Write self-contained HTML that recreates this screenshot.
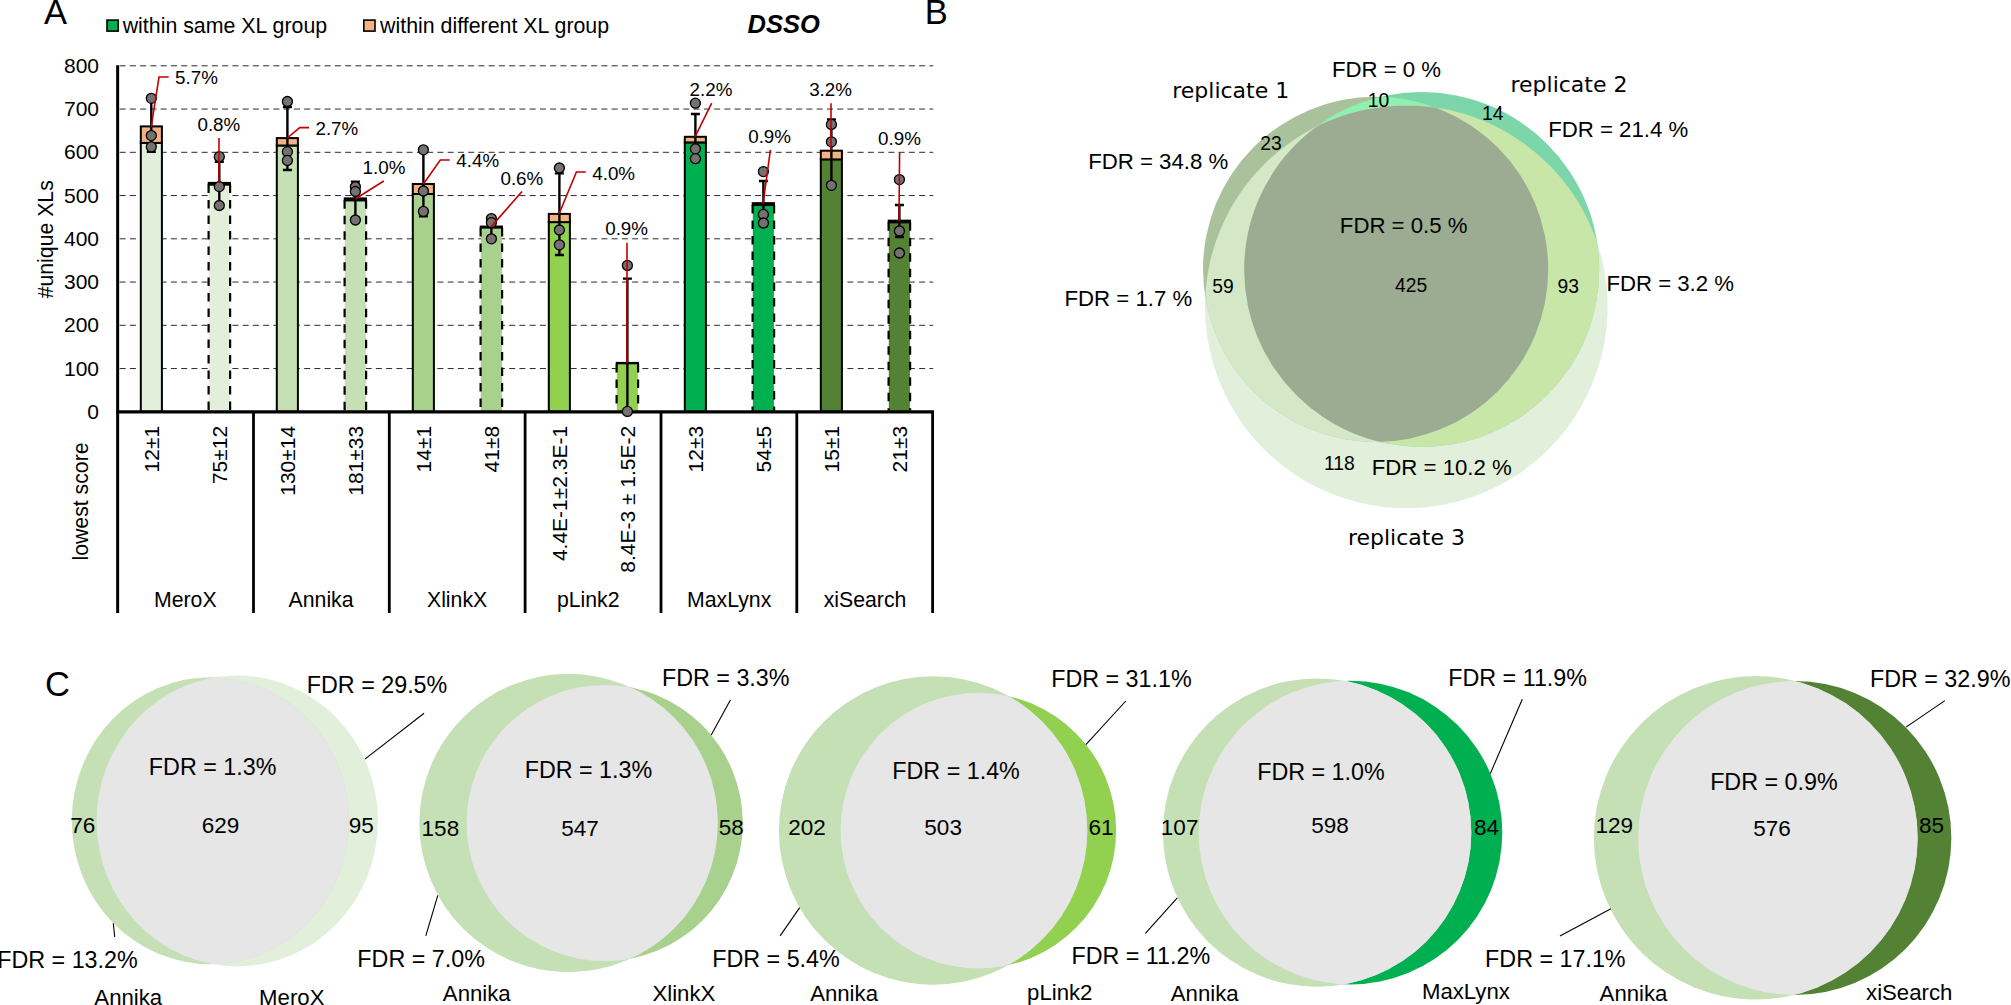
<!DOCTYPE html>
<html lang="en"><head><meta charset="utf-8"><title>DSSO cross-link search comparison</title>
<style>
html,body{margin:0;padding:0;background:#fff;}
body{width:2011px;height:1005px;overflow:hidden;}
svg{display:block;}
text{white-space:pre;}
</style></head><body>
<svg width="2011" height="1005" viewBox="0 0 2011 1005" font-family='"Liberation Sans", sans-serif' fill="#000">
<g id="panelA">
<line x1="119.65" x2="933.2" y1="368.55" y2="368.55" stroke="#2a2a2a" stroke-width="1" stroke-dasharray="6 4.25"/>
<line x1="119.65" x2="933.2" y1="325.30" y2="325.30" stroke="#2a2a2a" stroke-width="1" stroke-dasharray="6 4.25"/>
<line x1="119.65" x2="933.2" y1="282.05" y2="282.05" stroke="#2a2a2a" stroke-width="1" stroke-dasharray="6 4.25"/>
<line x1="119.65" x2="933.2" y1="238.80" y2="238.80" stroke="#2a2a2a" stroke-width="1" stroke-dasharray="6 4.25"/>
<line x1="119.65" x2="933.2" y1="195.55" y2="195.55" stroke="#2a2a2a" stroke-width="1" stroke-dasharray="6 4.25"/>
<line x1="119.65" x2="933.2" y1="152.30" y2="152.30" stroke="#2a2a2a" stroke-width="1" stroke-dasharray="6 4.25"/>
<line x1="119.65" x2="933.2" y1="109.05" y2="109.05" stroke="#2a2a2a" stroke-width="1" stroke-dasharray="6 4.25"/>
<line x1="119.65" x2="933.2" y1="65.80" y2="65.80" stroke="#2a2a2a" stroke-width="1" stroke-dasharray="6 4.25"/>
<text x="87.33" y="418.9" font-size="21.0" text-anchor="start">0</text>
<text x="63.97" y="375.7" font-size="21.0" text-anchor="start">100</text>
<text x="63.97" y="332.4" font-size="21.0" text-anchor="start">200</text>
<text x="63.97" y="289.2" font-size="21.0" text-anchor="start">300</text>
<text x="63.97" y="245.9" font-size="21.0" text-anchor="start">400</text>
<text x="63.97" y="202.7" font-size="21.0" text-anchor="start">500</text>
<text x="63.97" y="159.4" font-size="21.0" text-anchor="start">600</text>
<text x="63.97" y="116.2" font-size="21.0" text-anchor="start">700</text>
<text x="63.97" y="72.9" font-size="21.0" text-anchor="start">800</text>
<rect x="140.8" y="142.9" width="21.1" height="268.9" fill="#e2efda" stroke="#000" stroke-width="2"/>
<rect x="140.8" y="126.4" width="21.1" height="16.5" fill="#f4b183" stroke="#000" stroke-width="2"/>
<rect x="208.8" y="183.6" width="21.1" height="228.2" fill="#e2efda"/>
<path d="M208.6 184.6 V410.6 M230.1 184.6 V410.6" fill="none" stroke="#000" stroke-width="2.2" stroke-dasharray="8.5 7"/>
<line x1="207.7" x2="231.0" y1="183.8" y2="183.8" stroke="#000" stroke-width="3.8"/>
<rect x="276.8" y="145.5" width="21.1" height="266.3" fill="#c5e0b4" stroke="#000" stroke-width="2"/>
<rect x="276.8" y="138.1" width="21.1" height="7.4" fill="#f4b183" stroke="#000" stroke-width="2"/>
<rect x="344.8" y="199.2" width="21.1" height="212.6" fill="#c5e0b4"/>
<path d="M344.6 200.2 V410.6 M366.1 200.2 V410.6" fill="none" stroke="#000" stroke-width="2.2" stroke-dasharray="8.5 7"/>
<line x1="343.7" x2="367.0" y1="199.4" y2="199.4" stroke="#000" stroke-width="4.1"/>
<rect x="412.8" y="194.0" width="21.1" height="217.8" fill="#a9d18e" stroke="#000" stroke-width="2"/>
<rect x="412.8" y="184.0" width="21.1" height="10.0" fill="#f4b183" stroke="#000" stroke-width="2"/>
<rect x="480.8" y="226.9" width="21.1" height="184.9" fill="#a9d18e"/>
<path d="M480.6 227.9 V410.6 M502.1 227.9 V410.6" fill="none" stroke="#000" stroke-width="2.2" stroke-dasharray="8.5 7"/>
<line x1="479.7" x2="503.0" y1="227.1" y2="227.1" stroke="#000" stroke-width="3.1"/>
<rect x="548.8" y="222.1" width="21.1" height="189.7" fill="#92d050" stroke="#000" stroke-width="2"/>
<rect x="548.8" y="213.9" width="21.1" height="8.2" fill="#f4b183" stroke="#000" stroke-width="2"/>
<rect x="616.8" y="362.9" width="21.1" height="48.9" fill="#92d050"/>
<path d="M616.6 363.9 V410.6 M638.1 363.9 V410.6" fill="none" stroke="#000" stroke-width="2.2" stroke-dasharray="8.5 7"/>
<line x1="615.7" x2="639.0" y1="363.1" y2="363.1" stroke="#000" stroke-width="2.4"/>
<rect x="684.8" y="142.4" width="21.1" height="269.4" fill="#00b050" stroke="#000" stroke-width="2"/>
<rect x="684.8" y="136.8" width="21.1" height="5.6" fill="#f4b183" stroke="#000" stroke-width="2"/>
<rect x="752.8" y="203.9" width="21.1" height="207.9" fill="#00b050"/>
<path d="M752.6 204.9 V410.6 M774.1 204.9 V410.6" fill="none" stroke="#000" stroke-width="2.2" stroke-dasharray="8.5 7"/>
<line x1="751.7" x2="775.0" y1="204.1" y2="204.1" stroke="#000" stroke-width="3.9"/>
<rect x="820.8" y="159.3" width="21.1" height="252.5" fill="#548235" stroke="#000" stroke-width="2"/>
<rect x="820.8" y="150.7" width="21.1" height="8.7" fill="#f4b183" stroke="#000" stroke-width="2"/>
<rect x="888.8" y="221.3" width="21.1" height="190.5" fill="#548235"/>
<path d="M888.6 222.3 V410.6 M910.1 222.3 V410.6" fill="none" stroke="#000" stroke-width="2.2" stroke-dasharray="8.5 7"/>
<line x1="887.7" x2="911.0" y1="221.5" y2="221.5" stroke="#000" stroke-width="3.7"/>
<path d="M151.3 100 V151.7 M146.8 100 H155.8 M146.8 151.7 H155.8" stroke="#000" stroke-width="2.4" fill="none"/>
<path d="M219.3 161.7 V205.5 M214.8 161.7 H223.8 M214.8 205.5 H223.8" stroke="#000" stroke-width="2.4" fill="none"/>
<path d="M287.4 107 V170 M282.9 107 H291.9 M282.9 170 H291.9" stroke="#000" stroke-width="2.4" fill="none"/>
<path d="M355.4 181.6 V220 M350.9 181.6 H359.9 M350.9 220 H359.9" stroke="#000" stroke-width="2.4" fill="none"/>
<path d="M423.4 150 V216.4 M418.9 150 H427.9 M418.9 216.4 H427.9" stroke="#000" stroke-width="2.4" fill="none"/>
<path d="M491.4 221 V238 M486.9 221 H495.9 M486.9 238 H495.9" stroke="#000" stroke-width="2.4" fill="none"/>
<path d="M559.4 173.4 V255 M554.9 173.4 H563.9 M554.9 255 H563.9" stroke="#000" stroke-width="2.4" fill="none"/>
<path d="M627.4 278.6 V411 M622.9 278.6 H631.9 M622.9 411 H631.9" stroke="#000" stroke-width="2.4" fill="none"/>
<path d="M695.4 114 V160 M690.9 114 H699.9 M690.9 160 H699.9" stroke="#000" stroke-width="2.4" fill="none"/>
<path d="M763.4 181 V226 M758.9 181 H767.9 M758.9 226 H767.9" stroke="#000" stroke-width="2.4" fill="none"/>
<path d="M831.4 119.4 V185.3 M826.9 119.4 H835.9 M826.9 185.3 H835.9" stroke="#000" stroke-width="2.4" fill="none"/>
<path d="M899.4 205 V237 M894.9 205 H903.9 M894.9 237 H903.9" stroke="#000" stroke-width="2.4" fill="none"/>
<line x1="117.65" x2="117.65" y1="65.2" y2="613" stroke="#000" stroke-width="3"/>
<line x1="116.15" x2="934.0" y1="411.8" y2="411.8" stroke="#000" stroke-width="3.2"/>
<line x1="253.5" x2="253.5" y1="411.8" y2="613" stroke="#000" stroke-width="2.8"/>
<line x1="389.3" x2="389.3" y1="411.8" y2="613" stroke="#000" stroke-width="2.8"/>
<line x1="525.1" x2="525.1" y1="411.8" y2="613" stroke="#000" stroke-width="2.8"/>
<line x1="661" x2="661" y1="411.8" y2="613" stroke="#000" stroke-width="2.8"/>
<line x1="796.8" x2="796.8" y1="411.8" y2="613" stroke="#000" stroke-width="2.8"/>
<line x1="932.6" x2="932.6" y1="411.8" y2="613" stroke="#000" stroke-width="2.8"/>
<circle cx="151.3" cy="98.3" r="5" fill="#767171" stroke="#000" stroke-width="1.3"/>
<circle cx="151.3" cy="135.6" r="5" fill="#767171" stroke="#000" stroke-width="1.3"/>
<circle cx="151.3" cy="146.8" r="5" fill="#767171" stroke="#000" stroke-width="1.3"/>
<circle cx="219.3" cy="156.7" r="5" fill="#767171" stroke="#000" stroke-width="1.3"/>
<circle cx="219.3" cy="186.6" r="5" fill="#767171" stroke="#000" stroke-width="1.3"/>
<circle cx="219.3" cy="205.5" r="5" fill="#767171" stroke="#000" stroke-width="1.3"/>
<circle cx="287.4" cy="101.5" r="5" fill="#767171" stroke="#000" stroke-width="1.3"/>
<circle cx="287.4" cy="151.7" r="5" fill="#767171" stroke="#000" stroke-width="1.3"/>
<circle cx="287.4" cy="160.4" r="5" fill="#767171" stroke="#000" stroke-width="1.3"/>
<circle cx="355.4" cy="186.8" r="5" fill="#767171" stroke="#000" stroke-width="1.3"/>
<circle cx="355.4" cy="191.5" r="5" fill="#767171" stroke="#000" stroke-width="1.3"/>
<circle cx="355.4" cy="220" r="5" fill="#767171" stroke="#000" stroke-width="1.3"/>
<circle cx="423.4" cy="149.8" r="5" fill="#767171" stroke="#000" stroke-width="1.3"/>
<circle cx="423.4" cy="191" r="5" fill="#767171" stroke="#000" stroke-width="1.3"/>
<circle cx="423.4" cy="211.4" r="5" fill="#767171" stroke="#000" stroke-width="1.3"/>
<circle cx="491.4" cy="218.6" r="5" fill="#767171" stroke="#000" stroke-width="1.3"/>
<circle cx="491.4" cy="222.6" r="5" fill="#767171" stroke="#000" stroke-width="1.3"/>
<circle cx="491.4" cy="238.8" r="5" fill="#767171" stroke="#000" stroke-width="1.3"/>
<circle cx="559.4" cy="168" r="5" fill="#767171" stroke="#000" stroke-width="1.3"/>
<circle cx="559.4" cy="230" r="5" fill="#767171" stroke="#000" stroke-width="1.3"/>
<circle cx="559.4" cy="244.8" r="5" fill="#767171" stroke="#000" stroke-width="1.3"/>
<circle cx="627.4" cy="265.4" r="5" fill="#767171" stroke="#000" stroke-width="1.3"/>
<circle cx="627.4" cy="411.4" r="5" fill="#767171" stroke="#000" stroke-width="1.3"/>
<circle cx="695.4" cy="103.2" r="5" fill="#767171" stroke="#000" stroke-width="1.3"/>
<circle cx="695.4" cy="148.8" r="5" fill="#767171" stroke="#000" stroke-width="1.3"/>
<circle cx="695.4" cy="158.7" r="5" fill="#767171" stroke="#000" stroke-width="1.3"/>
<circle cx="763.4" cy="171.6" r="5" fill="#767171" stroke="#000" stroke-width="1.3"/>
<circle cx="763.4" cy="214.4" r="5" fill="#767171" stroke="#000" stroke-width="1.3"/>
<circle cx="763.4" cy="223" r="5" fill="#767171" stroke="#000" stroke-width="1.3"/>
<circle cx="831.4" cy="124.4" r="5" fill="#767171" stroke="#000" stroke-width="1.3"/>
<circle cx="831.4" cy="141.8" r="5" fill="#767171" stroke="#000" stroke-width="1.3"/>
<circle cx="831.4" cy="185.3" r="5" fill="#767171" stroke="#000" stroke-width="1.3"/>
<circle cx="899.4" cy="179.6" r="5" fill="#767171" stroke="#000" stroke-width="1.3"/>
<circle cx="899.4" cy="231" r="5" fill="#767171" stroke="#000" stroke-width="1.3"/>
<circle cx="899.4" cy="253" r="5" fill="#767171" stroke="#000" stroke-width="1.3"/>
<path d="M151.2 127 L159 77 H168.7" fill="none" stroke="#c00000" stroke-width="1.6"/>
<path d="M219 138 V183" fill="none" stroke="#c00000" stroke-width="1.6"/>
<path d="M287.3 138 L299.8 127.6 H309" fill="none" stroke="#c00000" stroke-width="1.6"/>
<path d="M355.2 199 L383.8 181" fill="none" stroke="#c00000" stroke-width="1.6"/>
<path d="M423.4 184 L440.3 160 H449.8" fill="none" stroke="#c00000" stroke-width="1.6"/>
<path d="M491 226.9 L522 191.5" fill="none" stroke="#c00000" stroke-width="1.6"/>
<path d="M559 214 L576.4 172 H585.8" fill="none" stroke="#c00000" stroke-width="1.6"/>
<path d="M627 242.8 V363" fill="none" stroke="#c00000" stroke-width="1.6"/>
<path d="M695 136.8 L711.7 103.2" fill="none" stroke="#c00000" stroke-width="1.6"/>
<path d="M763 204 L770.4 150" fill="none" stroke="#c00000" stroke-width="1.6"/>
<path d="M831 103.2 V150.5" fill="none" stroke="#c00000" stroke-width="1.6"/>
<path d="M899.6 152.2 L899 221" fill="none" stroke="#c00000" stroke-width="1.6"/>
<text x="175.09" y="84.3" font-size="18.8" text-anchor="start">5.7%</text>
<text x="197.44" y="130.8" font-size="18.8" text-anchor="start">0.8%</text>
<text x="315.45" y="135" font-size="18.8" text-anchor="start">2.7%</text>
<text x="362.57" y="173.6" font-size="18.8" text-anchor="start">1.0%</text>
<text x="456.36" y="166.9" font-size="18.8" text-anchor="start">4.4%</text>
<text x="500.44" y="184.8" font-size="18.8" text-anchor="start">0.6%</text>
<text x="592.26" y="179.8" font-size="18.8" text-anchor="start">4.0%</text>
<text x="605.19" y="235" font-size="18.8" text-anchor="start">0.9%</text>
<text x="689.6" y="96" font-size="18.8" text-anchor="start">2.2%</text>
<text x="748.19" y="143.2" font-size="18.8" text-anchor="start">0.9%</text>
<text x="809.17" y="96" font-size="18.8" text-anchor="start">3.2%</text>
<text x="878.04" y="144.5" font-size="18.8" text-anchor="start">0.9%</text>
<text x="158.7" y="425.8" font-size="21.0" text-anchor="end" transform="rotate(-90 158.7 425.8)">12±1</text>
<text x="226.7" y="425.8" font-size="21.0" text-anchor="end" transform="rotate(-90 226.7 425.8)">75±12</text>
<text x="294.7" y="425.8" font-size="21.0" text-anchor="end" transform="rotate(-90 294.7 425.8)">130±14</text>
<text x="362.7" y="425.8" font-size="21.0" text-anchor="end" transform="rotate(-90 362.7 425.8)">181±33</text>
<text x="430.7" y="425.8" font-size="21.0" text-anchor="end" transform="rotate(-90 430.7 425.8)">14±1</text>
<text x="498.7" y="425.8" font-size="21.0" text-anchor="end" transform="rotate(-90 498.7 425.8)">41±8</text>
<text x="566.6" y="425.8" font-size="21.0" text-anchor="end" transform="rotate(-90 566.6 425.8)">4.4E-1±2.3E-1</text>
<text x="634.6" y="425.8" font-size="21.0" text-anchor="end" transform="rotate(-90 634.6 425.8)">8.4E-3 ± 1.5E-2</text>
<text x="702.6" y="425.8" font-size="21.0" text-anchor="end" transform="rotate(-90 702.6 425.8)">12±3</text>
<text x="770.6" y="425.8" font-size="21.0" text-anchor="end" transform="rotate(-90 770.6 425.8)">54±5</text>
<text x="838.6" y="425.8" font-size="21.0" text-anchor="end" transform="rotate(-90 838.6 425.8)">15±1</text>
<text x="906.6" y="425.8" font-size="21.0" text-anchor="end" transform="rotate(-90 906.6 425.8)">21±3</text>
<text x="185.3" y="607" font-size="21.25" text-anchor="middle">MeroX</text>
<text x="321.1" y="607" font-size="21.25" text-anchor="middle">Annika</text>
<text x="457.1" y="607" font-size="21.25" text-anchor="middle">XlinkX</text>
<text x="588.2" y="607" font-size="21.25" text-anchor="middle">pLink2</text>
<text x="729.2" y="607" font-size="21.25" text-anchor="middle">MaxLynx</text>
<text x="865.0" y="607" font-size="21.25" text-anchor="middle">xiSearch</text>
<text x="53.1" y="239.3" font-size="21.25" text-anchor="middle" transform="rotate(-90 53.1 239.3)">#unique XLs</text>
<text x="88.3" y="501.5" font-size="21.25" text-anchor="middle" transform="rotate(-90 88.3 501.5)">lowest score</text>
<rect x="107" y="20.1" width="11.2" height="11" fill="#00b050" stroke="#000" stroke-width="1.6"/>
<text x="122.69" y="33.2" font-size="21.35" text-anchor="start">within same XL group</text>
<rect x="363.8" y="20.1" width="11.2" height="11" fill="#f4b183" stroke="#000" stroke-width="1.6"/>
<text x="380.11" y="33.2" font-size="21.35" text-anchor="start">within different XL group</text>
<text x="747.49" y="32.9" font-size="25.5" text-anchor="start" font-weight="bold" font-style="italic">DSSO</text>
<text x="43.99" y="23.9" font-size="34.5" text-anchor="start">A</text>
</g>
<g id="panelB">
<text x="924.67" y="23.9" font-size="34.5" text-anchor="start">B</text>
<defs>
<clipPath id="clipA"><circle cx="1375.6" cy="269.4" r="172.6"/></clipPath>
<clipPath id="clipB"><circle cx="1421.7" cy="269.5" r="177.5"/></clipPath>
<clipPath id="clipC"><circle cx="1406.3" cy="306.8" r="201.3"/></clipPath>
</defs>
<circle cx="1406.3" cy="306.8" r="201.3" fill="#e2efda"/>
<circle cx="1375.6" cy="269.4" r="172.6" fill="#a9c29b"/>
<circle cx="1421.7" cy="269.5" r="177.5" fill="#7dd6a9"/>
<circle cx="1375.6" cy="269.4" r="172.6" fill="#90f0b0" clip-path="url(#clipB)"/>
<circle cx="1406.3" cy="306.8" r="201.3" fill="#d4e8c8" clip-path="url(#clipA)"/>
<circle cx="1406.3" cy="306.8" r="201.3" fill="#c8e6a8" clip-path="url(#clipB)"/>
<g clip-path="url(#clipA)"><circle cx="1406.3" cy="306.8" r="201.3" fill="#9bac93" clip-path="url(#clipB)"/></g>
<text x="1331.89" y="76.8" font-size="22.2" text-anchor="start">FDR = 0 %</text>
<text x="1088.16" y="169.2" font-size="22.2" text-anchor="start">FDR = 34.8 %</text>
<text x="1064.5" y="306.4" font-size="22.2" text-anchor="start">FDR = 1.7 %</text>
<text x="1548.16" y="136.8" font-size="22.2" text-anchor="start">FDR = 21.4 %</text>
<text x="1606.4" y="291" font-size="22.2" text-anchor="start">FDR = 3.2 %</text>
<text x="1339.85" y="232.5" font-size="22.2" text-anchor="start">FDR = 0.5 %</text>
<text x="1371.76" y="474.5" font-size="22.2" text-anchor="start">FDR = 10.2 %</text>
<text x="1172.21" y="97.7" font-size="22.0" text-anchor="start" font-family='"DejaVu Sans", "Liberation Sans", sans-serif'>replicate 1</text>
<text x="1510.47" y="92.4" font-size="22.0" text-anchor="start" font-family='"DejaVu Sans", "Liberation Sans", sans-serif'>replicate 2</text>
<text x="1347.9" y="544.8" font-size="22.0" text-anchor="start" font-family='"DejaVu Sans", "Liberation Sans", sans-serif'>replicate 3</text>
<text x="1367.78" y="106.7" font-size="19.3" text-anchor="start">10</text>
<text x="1482.08" y="120" font-size="19.3" text-anchor="start">14</text>
<text x="1260.22" y="149.5" font-size="19.3" text-anchor="start">23</text>
<text x="1212.34" y="293" font-size="19.3" text-anchor="start">59</text>
<text x="1394.98" y="291.6" font-size="19.3" text-anchor="start">425</text>
<text x="1557.44" y="293" font-size="19.3" text-anchor="start">93</text>
<text x="1324.02" y="470.2" font-size="19.3" text-anchor="start">118</text>
</g>
<g id="panelC">
<text x="45.11" y="696.2" font-size="34.5" text-anchor="start">C</text>
<defs><clipPath id="cv0"><ellipse cx="210.4" cy="820.8" rx="138.6" ry="143.45"/></clipPath></defs>
<ellipse cx="237.3" cy="820.95" rx="140.7" ry="145.45" fill="#e2efda"/>
<ellipse cx="210.4" cy="820.8" rx="138.6" ry="143.45" fill="#c5e0b4"/>
<ellipse cx="237.3" cy="820.95" rx="140.7" ry="145.45" fill="#e6e6e6" clip-path="url(#cv0)"/>
<defs><clipPath id="cv1"><ellipse cx="568.55" cy="823" rx="149.2" ry="149.2"/></clipPath></defs>
<ellipse cx="604.7" cy="823" rx="138.1" ry="138.1" fill="#a9d18e"/>
<ellipse cx="568.55" cy="823" rx="149.2" ry="149.2" fill="#c5e0b4"/>
<ellipse cx="604.7" cy="823" rx="138.1" ry="138.1" fill="#e6e6e6" clip-path="url(#cv1)"/>
<defs><clipPath id="cv2"><ellipse cx="933.1" cy="830.5" rx="154.2" ry="154.2"/></clipPath></defs>
<ellipse cx="978.35" cy="830.6" rx="137.8" ry="137.8" fill="#92d050"/>
<ellipse cx="933.1" cy="830.5" rx="154.2" ry="154.2" fill="#c5e0b4"/>
<ellipse cx="978.35" cy="830.6" rx="137.8" ry="137.8" fill="#e6e6e6" clip-path="url(#cv2)"/>
<defs><clipPath id="cv3"><ellipse cx="1317.1" cy="832.6" rx="154.2" ry="154.2"/></clipPath></defs>
<ellipse cx="1350.5" cy="832.6" rx="151.8" ry="151.8" fill="#00b050"/>
<ellipse cx="1317.1" cy="832.6" rx="154.2" ry="154.2" fill="#c5e0b4"/>
<ellipse cx="1350.5" cy="832.6" rx="151.8" ry="151.8" fill="#e6e6e6" clip-path="url(#cv3)"/>
<defs><clipPath id="cv4"><ellipse cx="1755.75" cy="837.8" rx="161.9" ry="161.7"/></clipPath></defs>
<ellipse cx="1794.75" cy="838" rx="156.6" ry="157" fill="#548235"/>
<ellipse cx="1755.75" cy="837.8" rx="161.9" ry="161.7" fill="#c5e0b4"/>
<ellipse cx="1794.75" cy="838" rx="156.6" ry="157" fill="#e6e6e6" clip-path="url(#cv4)"/>
<line x1="424.1" y1="713.3" x2="364.9" y2="759.1" stroke="#000" stroke-width="1.1"/>
<line x1="113.3" y1="923.2" x2="114.7" y2="937.0" stroke="#000" stroke-width="1.1"/>
<line x1="730.4" y1="699.9" x2="711.2" y2="735.1" stroke="#000" stroke-width="1.1"/>
<line x1="437.8" y1="895.3" x2="425.8" y2="935.9" stroke="#000" stroke-width="1.1"/>
<line x1="1125.8" y1="701.0" x2="1085.9" y2="744.6" stroke="#000" stroke-width="1.1"/>
<line x1="799.7" y1="907.6" x2="780.1" y2="935.9" stroke="#000" stroke-width="1.1"/>
<line x1="1522.3" y1="699.2" x2="1490.3" y2="773.6" stroke="#000" stroke-width="1.1"/>
<line x1="1177.3" y1="897.8" x2="1145.4" y2="933.4" stroke="#000" stroke-width="1.1"/>
<line x1="1944.9" y1="700.6" x2="1906.1" y2="727.1" stroke="#000" stroke-width="1.1"/>
<line x1="1610.9" y1="908.7" x2="1560.0" y2="935.9" stroke="#000" stroke-width="1.1"/>
<text x="306.8" y="692.9" font-size="23.3" text-anchor="start">FDR = 29.5%</text>
<text x="148.84" y="775.0" font-size="23.3" text-anchor="start">FDR = 1.3%</text>
<text x="-2.8" y="967.9" font-size="23.3" text-anchor="start">FDR = 13.2%</text>
<text x="70.2" y="833.3" font-size="22.5" text-anchor="start">76</text>
<text x="201.73" y="833.3" font-size="22.5" text-anchor="start">629</text>
<text x="348.68" y="833.3" font-size="22.5" text-anchor="start">95</text>
<text x="94.33" y="1004.6" font-size="22.2" text-anchor="start">Annika</text>
<text x="259.09" y="1004.6" font-size="22.2" text-anchor="start">MeroX</text>
<text x="661.99" y="686.1" font-size="23.3" text-anchor="start">FDR = 3.3%</text>
<text x="524.69" y="777.6" font-size="23.3" text-anchor="start">FDR = 1.3%</text>
<text x="357.34" y="966.5" font-size="23.3" text-anchor="start">FDR = 7.0%</text>
<text x="421.62" y="835.8" font-size="22.5" text-anchor="start">158</text>
<text x="561.25" y="835.5" font-size="22.5" text-anchor="start">547</text>
<text x="718.69" y="834.9" font-size="22.5" text-anchor="start">58</text>
<text x="442.83" y="1001.3" font-size="22.2" text-anchor="start">Annika</text>
<text x="652.43" y="1001.3" font-size="22.2" text-anchor="start">XlinkX</text>
<text x="1051.2" y="686.8" font-size="23.3" text-anchor="start">FDR = 31.1%</text>
<text x="892.29" y="779.3" font-size="23.3" text-anchor="start">FDR = 1.4%</text>
<text x="712.24" y="967.3" font-size="23.3" text-anchor="start">FDR = 5.4%</text>
<text x="788.34" y="835.4" font-size="22.5" text-anchor="start">202</text>
<text x="924.37" y="835" font-size="22.5" text-anchor="start">503</text>
<text x="1088.58" y="835.3" font-size="22.5" text-anchor="start">61</text>
<text x="810.13" y="1001.3" font-size="22.2" text-anchor="start">Annika</text>
<text x="1027.09" y="1000.4" font-size="22.2" text-anchor="start">pLink2</text>
<text x="1448.22" y="686.1" font-size="23.3" text-anchor="start">FDR = 11.9%</text>
<text x="1257.19" y="779.8" font-size="23.3" text-anchor="start">FDR = 1.0%</text>
<text x="1071.42" y="964.3" font-size="23.3" text-anchor="start">FDR = 11.2%</text>
<text x="1160.86" y="835.3" font-size="22.5" text-anchor="start">107</text>
<text x="1311.17" y="833.1" font-size="22.5" text-anchor="start">598</text>
<text x="1473.89" y="835.3" font-size="22.5" text-anchor="start">84</text>
<text x="1170.78" y="1000.9" font-size="22.2" text-anchor="start">Annika</text>
<text x="1421.91" y="999.2" font-size="22.2" text-anchor="start">MaxLynx</text>
<text x="1869.95" y="686.5" font-size="23.3" text-anchor="start">FDR = 32.9%</text>
<text x="1710.14" y="790.3" font-size="23.3" text-anchor="start">FDR = 0.9%</text>
<text x="1485.1" y="967.4" font-size="23.3" text-anchor="start">FDR = 17.1%</text>
<text x="1595.6" y="833.0" font-size="22.5" text-anchor="start">129</text>
<text x="1753.27" y="835.5" font-size="22.5" text-anchor="start">576</text>
<text x="1918.98" y="833.0" font-size="22.5" text-anchor="start">85</text>
<text x="1599.58" y="1000.9" font-size="22.2" text-anchor="start">Annika</text>
<text x="1866.05" y="999.8" font-size="22.2" text-anchor="start">xiSearch</text>
</g>
</svg>
</body></html>
